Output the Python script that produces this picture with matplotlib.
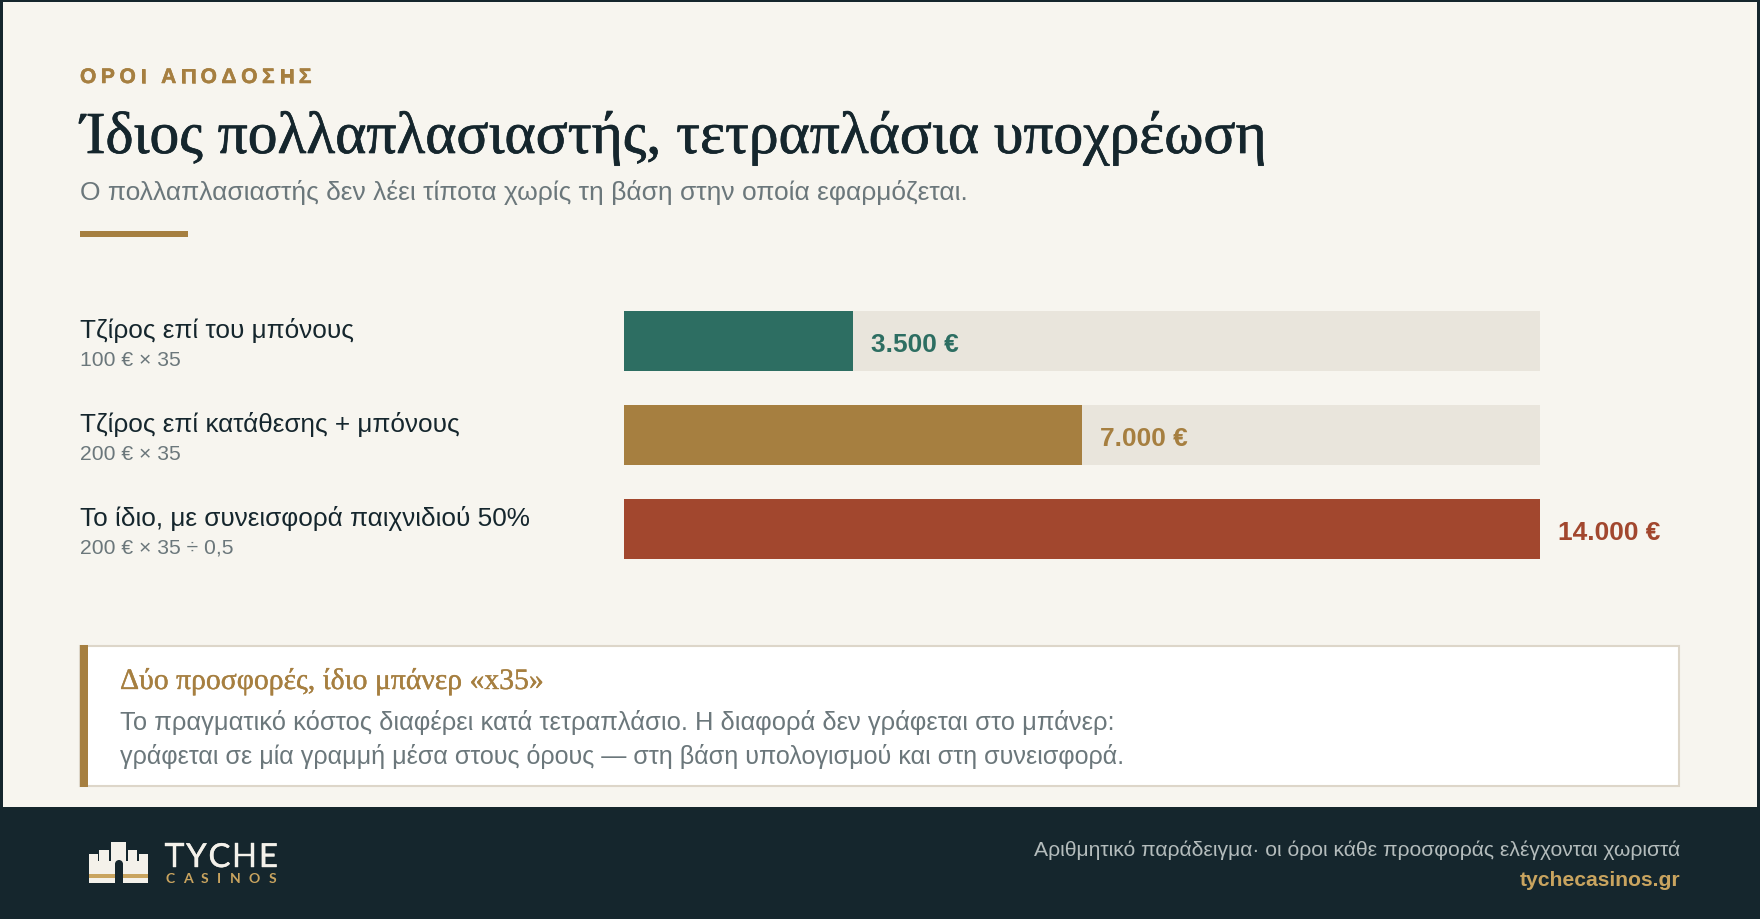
import matplotlib
matplotlib.use('Agg')
import matplotlib.pyplot as plt
import matplotlib.patheffects as pe
from matplotlib.patches import Rectangle, Polygon, Circle

# Dados
rotulos = ['Τζίρος επί του μπόνους', 'Τζίρος επί κατάθεσης + μπόνους', 'Το ίδιο, με συνεισφορά παιχνιδιού 50%']
formulas = ['100 € × 35', '200 € × 35', '200 € × 35 ÷ 0,5']
valores = [3500, 7000, 14000]
valores_txt = ['3.500 €', '7.000 €', '14.000 €']
cores = ['#2D6E62', '#A67F40', '#A2472E']
maximo = 14000

# Cores gerais
FUNDO = '#F7F5EF'
ESCURO = '#15262D'
OURO = '#A67F40'
OURO_CLARO = '#C9A45F'
CINZA = '#6B777B'
TRILHO = '#E9E5DC'
BORDA = '#DDD6C9'
CREME = '#F4F1EA'

SANS = 'Liberation Sans'
SERIF = 'Liberation Serif'
W, H = 1760, 920

fig = plt.figure(figsize=(W / 100, H / 100), dpi=100, facecolor=ESCURO)

# Camada de fundo em pixels
bg = fig.add_axes([0, 0, 1, 1])
bg.set_xlim(0, W)
bg.set_ylim(H, 0)
bg.axis('off')

def px(s):
    return s * 0.72

def grosso(cor, lw):
    return [pe.withStroke(linewidth=lw, foreground=cor)]

def texto_espacado(ax, x, y, s, espaco, **kw):
    # matplotlib nao tem letter-spacing, entao vai letra por letra
    r = fig.canvas.get_renderer()
    for ch in s:
        t = ax.text(x, y, ch, va='baseline', ha='left', **kw)
        w = t.get_window_extent(r).width if ch != ' ' else kw['fontsize'] / 0.72 * 0.28
        x += w + espaco

bg.add_patch(Rectangle((2.5, 3), W - 5.5, 805, fc=FUNDO, ec='none'))

# Cabecalho
texto_espacado(bg, 80, 84, 'ΟΡΟΙ ΑΠΟΔΟΣΗΣ', 4.6, fontsize=px(21), fontweight='bold', color=OURO, family=SANS,
               path_effects=grosso(OURO, 0.4))
bg.text(81, 154, 'Ίδιος πολλαπλασιαστής, τετραπλάσια υποχρέωση', fontsize=px(59.5), color=ESCURO, family=SERIF,
        va='baseline', path_effects=grosso(ESCURO, 0.5))
bg.text(80, 200, 'Ο πολλαπλασιαστής δεν λέει τίποτα χωρίς τη βάση στην οποία εφαρμόζεται.', fontsize=px(26.35), color=CINZA, family=SANS, va='baseline')
bg.add_patch(Rectangle((80, 232), 108, 6, fc=OURO, ec='none'))

# Barras
ax = fig.add_axes([624 / W, 1 - 560 / H, 916 / W, 248 / H])
ax.set_facecolor('none')
y = range(len(valores))
ax.barh(y, [maximo] * len(valores), height=60 / 94, color=TRILHO)
ax.barh(y, valores, height=60 / 94, color=cores)
ax.set_xlim(0, maximo)
ax.set_ylim(2 + 124 / 94 - 1, -124 / 94 + 1)
ax.axis('off')

for i, v in enumerate(valores):
    ax.annotate(valores_txt[i], xy=(v, i), xytext=(18, -9.5), textcoords='offset pixels',
                fontsize=px(26.3), fontweight='bold', color=cores[i], family=SANS,
                va='baseline', annotation_clip=False)
    ax.annotate(rotulos[i], xy=(0, i), xytext=(-544, 4), textcoords='offset pixels',
                fontsize=px(26.15), color=ESCURO, family=SANS, va='baseline', annotation_clip=False)
    ax.annotate(formulas[i], xy=(0, i), xytext=(-544, -23.5), textcoords='offset pixels',
                fontsize=px(21.1), color=CINZA, family=SANS, va='baseline', annotation_clip=False)

# Caixa de destaque
bg.add_patch(Rectangle((80, 647), 1599, 140, fc='white', ec=BORDA, lw=1.5))
bg.add_patch(Rectangle((80, 646), 8, 142, fc=OURO, ec='none'))
bg.text(120, 690, 'Δύο προσφορές, ίδιο μπάνερ «x35»', fontsize=px(29.7), color=OURO, family=SERIF, va='baseline',
        path_effects=grosso(OURO, 0.25))
bg.text(120, 730, 'Το πραγματικό κόστος διαφέρει κατά τετραπλάσιο. Η διαφορά δεν γράφεται στο μπάνερ:', fontsize=px(25.5), color=CINZA, family=SANS, va='baseline')
bg.text(120, 764, 'γράφεται σε μία γραμμή μέσα στους όρους — στη βάση υπολογισμού και στη συνεισφορά.', fontsize=px(25.1), color=CINZA, family=SANS, va='baseline')

# Logo
castelo = [(89, 884), (89, 855), (98, 855), (98, 862), (99, 862), (99, 851), (109, 851), (109, 862),
           (111, 862), (111, 843), (126, 843), (126, 862), (128, 862), (128, 851), (137, 851), (137, 862),
           (139, 862), (139, 855), (148, 855), (148, 884)]
bg.add_patch(Polygon(castelo, fc=CREME, ec='none'))
bg.add_patch(Rectangle((115, 865), 8, 20, fc=ESCURO, ec='none'))
bg.add_patch(Circle((119, 865), 4, fc=ESCURO, ec='none'))
bg.add_patch(Rectangle((89, 875), 26, 4, fc=OURO_CLARO, ec='none'))
bg.add_patch(Rectangle((123, 875), 25, 4, fc=OURO_CLARO, ec='none'))
texto_espacado(bg, 165, 868, 'TYCHE', 1.6, fontsize=px(33), color=CREME, family='Lato', path_effects=grosso(CREME, 0.3))
texto_espacado(bg, 165, 883, 'CASINOS', 8.5, fontsize=px(14), fontweight='bold', color=OURO_CLARO, family='Lato')

# Rodape
bg.text(1680, 856, 'Αριθμητικό παράδειγμα· οι όροι κάθε προσφοράς ελέγχονται χωριστά', fontsize=px(21.15), color='#B4BCBC', family=SANS, ha='right', va='baseline')
bg.text(1680, 886, 'tychecasinos.gr', fontsize=px(21.1), fontweight='bold', color=OURO_CLARO, family=SANS, ha='right', va='baseline')

fig.savefig('out.png', dpi=100, facecolor=fig.get_facecolor())
plt.close()
